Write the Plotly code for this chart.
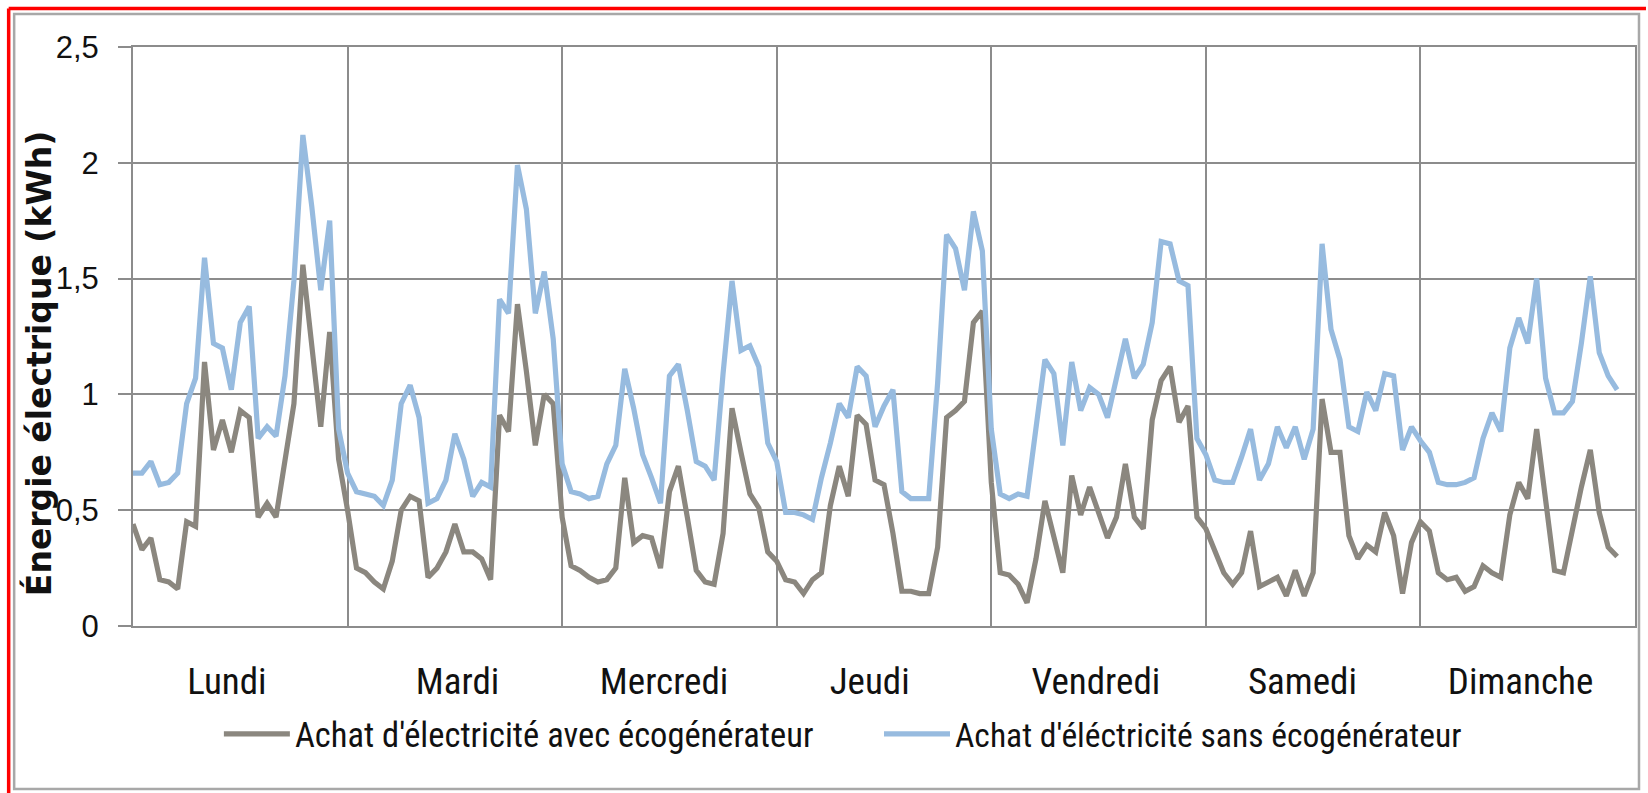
import plotly.graph_objects as go

days = ["Lundi", "Mardi", "Mercredi", "Jeudi", "Vendredi", "Samedi", "Dimanche"]

avec_lundi = [0.44, 0.33, 0.38, 0.20, 0.19, 0.16, 0.45, 0.43, 1.14, 0.76, 0.89, 0.75, 0.93, 0.90, 0.47, 0.53, 0.47, 0.70, 0.96, 1.56, 1.22, 0.86, 1.27, 0.72]
avec_mardi = [0.50, 0.25, 0.23, 0.19, 0.16, 0.28, 0.50, 0.56, 0.54, 0.21, 0.25, 0.32, 0.44, 0.32, 0.32, 0.29, 0.20, 0.91, 0.84, 1.39, 1.10, 0.78, 1.00, 0.96]
avec_mercredi = [0.47, 0.26, 0.24, 0.21, 0.19, 0.20, 0.25, 0.64, 0.36, 0.39, 0.38, 0.25, 0.58, 0.69, 0.47, 0.24, 0.19, 0.18, 0.40, 0.94, 0.75, 0.57, 0.51, 0.32]
avec_jeudi = [0.28, 0.20, 0.19, 0.14, 0.20, 0.23, 0.52, 0.69, 0.56, 0.91, 0.87, 0.63, 0.61, 0.40, 0.15, 0.15, 0.14, 0.14, 0.34, 0.90, 0.93, 0.97, 1.31, 1.36]
avec_vendredi = [0.62, 0.23, 0.22, 0.18, 0.10, 0.29, 0.54, 0.39, 0.23, 0.65, 0.48, 0.60, 0.49, 0.38, 0.47, 0.70, 0.47, 0.42, 0.89, 1.06, 1.12, 0.88, 0.95, 0.47]
avec_samedi = [0.42, 0.32, 0.23, 0.18, 0.23, 0.41, 0.17, 0.19, 0.21, 0.13, 0.24, 0.13, 0.23, 0.98, 0.75, 0.75, 0.39, 0.29, 0.35, 0.32, 0.49, 0.39, 0.14, 0.36]
avec_dimanche = [0.45, 0.41, 0.23, 0.20, 0.21, 0.15, 0.17, 0.26, 0.23, 0.21, 0.48, 0.62, 0.55, 0.85, 0.55, 0.24, 0.23, 0.42, 0.60, 0.76, 0.49, 0.34, 0.30]

sans_lundi = [0.66, 0.66, 0.71, 0.61, 0.62, 0.66, 0.96, 1.07, 1.59, 1.22, 1.20, 1.02, 1.31, 1.38, 0.81, 0.86, 0.82, 1.08, 1.49, 2.12, 1.81, 1.45, 1.75, 0.85]
sans_mardi = [0.66, 0.58, 0.57, 0.56, 0.52, 0.63, 0.96, 1.04, 0.90, 0.53, 0.55, 0.63, 0.83, 0.72, 0.56, 0.62, 0.60, 1.41, 1.35, 1.99, 1.80, 1.35, 1.53, 1.24]
sans_mercredi = [0.70, 0.58, 0.57, 0.55, 0.56, 0.70, 0.78, 1.11, 0.94, 0.74, 0.64, 0.53, 1.08, 1.13, 0.93, 0.71, 0.69, 0.63, 1.09, 1.49, 1.19, 1.21, 1.12, 0.79]
sans_jeudi = [0.71, 0.49, 0.49, 0.48, 0.46, 0.64, 0.79, 0.96, 0.90, 1.12, 1.08, 0.86, 0.95, 1.02, 0.58, 0.55, 0.55, 0.55, 1.05, 1.69, 1.63, 1.45, 1.79, 1.62]
sans_vendredi = [0.85, 0.57, 0.55, 0.57, 0.56, 0.87, 1.15, 1.09, 0.78, 1.14, 0.93, 1.03, 1.00, 0.90, 1.07, 1.24, 1.07, 1.13, 1.31, 1.66, 1.65, 1.49, 1.47, 0.81]
sans_samedi = [0.74, 0.63, 0.62, 0.62, 0.73, 0.85, 0.63, 0.70, 0.86, 0.77, 0.86, 0.72, 0.85, 1.65, 1.28, 1.15, 0.86, 0.84, 1.01, 0.93, 1.09, 1.08, 0.76, 0.86]
sans_dimanche = [0.80, 0.75, 0.62, 0.61, 0.61, 0.62, 0.64, 0.81, 0.92, 0.84, 1.20, 1.33, 1.22, 1.50, 1.07, 0.92, 0.92, 0.97, 1.22, 1.51, 1.18, 1.08, 1.02]

avec = (avec_lundi + avec_mardi + avec_mercredi + avec_jeudi +
        avec_vendredi + avec_samedi + avec_dimanche)
sans = (sans_lundi + sans_mardi + sans_mercredi + sans_jeudi +
        sans_vendredi + sans_samedi + sans_dimanche)

hours_per_day = 24
n_slots = hours_per_day * len(days)
x_avec = list(range(len(avec)))
x_sans = list(range(len(sans)))
label_pos = [10.5, 36.3, 59.4, 82.4, 107.7, 130.8, 155.2]
y_title = "Énergie électrique (kWh)"

W, H = 1648, 793
ML, MR, MT, MB = 133, 11, 47, 167
PW, PH = W - ML - MR, H - MT - MB

def px(xp):
    return (xp - ML) / PW

def py(yp):
    return (H - MB - yp) / PH

GRID = "#8c8c8c"
GRAY = "#8b877f"
BLUE = "#97bbdf"
TXT = "#111111"
NARROW = "Liberation Sans Narrow, Arial Narrow, Roboto Condensed, Liberation Sans, sans-serif"

fig = go.Figure()
fig.add_trace(go.Scatter(
    x=x_avec, y=avec, mode="lines",
    name="Achat d'électricité avec écogénérateur",
    legend="legend",
    line=dict(color=GRAY, width=5.2)))
fig.add_trace(go.Scatter(
    x=x_sans, y=sans, mode="lines",
    name="Achat d'éléctricité sans écogénérateur",
    legend="legend2",
    line=dict(color=BLUE, width=5.2)))

leg_common = dict(orientation="h", yanchor="middle", y=py(734),
                  xanchor="left", itemwidth=66,
                  bgcolor="rgba(0,0,0,0)", borderwidth=0)

fig.update_layout(
    width=W, height=H,
    margin=dict(l=ML, r=MR, t=MT, b=MB),
    paper_bgcolor="white", plot_bgcolor="white",
    separators=", ",
    showlegend=True,
    legend=dict(x=px(219), font=dict(family=NARROW, size=34.5, color=TXT), **leg_common),
    legend2=dict(x=px(880), font=dict(family=NARROW, size=33.6, color=TXT), **leg_common),
    xaxis=dict(range=[0, n_slots], tickmode="array", tickvals=label_pos,
               ticktext=days, ticks="", showgrid=False, zeroline=False,
               showline=True, linecolor=GRID, linewidth=2, mirror=True,
               tickfont=dict(family=NARROW, size=37, color=TXT),
               ticklabelstandoff=22,
               minor=dict(tick0=0, dtick=hours_per_day, showgrid=True,
                          gridcolor=GRID, gridwidth=2, ticks="")),
    yaxis=dict(range=[0, 2.5], dtick=0.5, showgrid=True, gridcolor=GRID,
               gridwidth=2, zeroline=False, showline=True, linecolor=GRID,
               linewidth=2, mirror=True, ticks="outside", ticklen=13,
               tickwidth=2, tickcolor=GRID, ticklabelstandoff=13,
               tickfont=dict(family="Liberation Sans, Arial, sans-serif", size=31, color=TXT)),
)

fig.add_annotation(text="<b>" + y_title + "</b>", textangle=-90,
                   xref="paper", yref="paper", x=px(39), y=py(364),
                   xanchor="center", yanchor="middle", showarrow=False,
                   font=dict(family="DejaVu Sans, sans-serif", size=33, color=TXT))

fig.add_shape(type="rect", xref="paper", yref="paper",
              x0=px(14), x1=px(1641), y0=py(789), y1=py(14),
              line=dict(color="#a8a8a8", width=2.5), layer="below")
fig.add_shape(type="line", xref="paper", yref="paper",
              x0=px(8.5), x1=px(W), y0=py(8.5), y1=py(8.5),
              line=dict(color="#ff0000", width=3.5))
fig.add_shape(type="line", xref="paper", yref="paper",
              x0=px(8.5), x1=px(8.5), y0=py(8.5), y1=py(H),
              line=dict(color="#ff0000", width=3.5))

fig.write_html(
    "out.html",
    config={"displayModeBar": False},
    post_script="document.body.style.margin='0';document.body.style.overflow='hidden';")
